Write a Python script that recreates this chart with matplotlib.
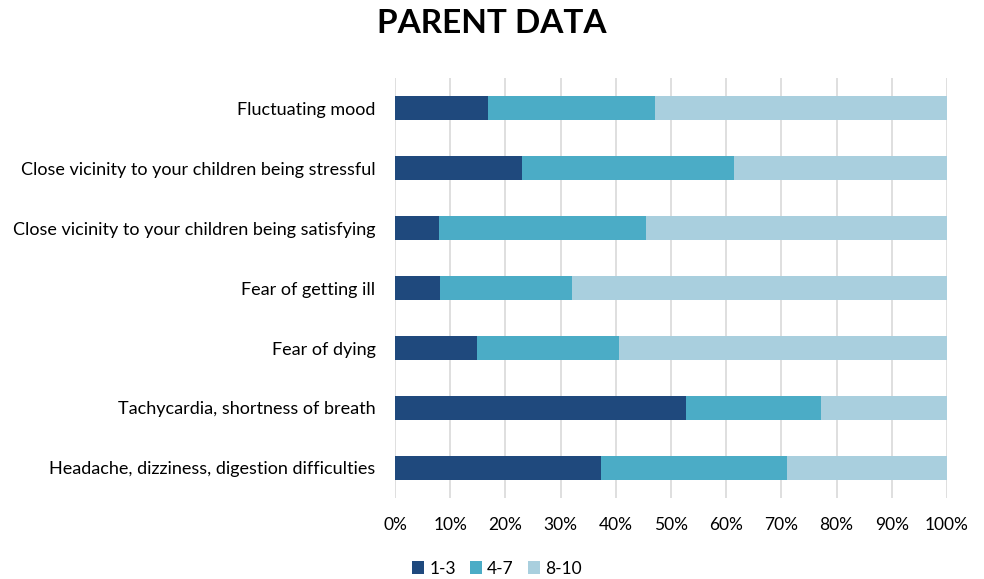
import matplotlib.pyplot as plt
import numpy as np
from matplotlib.ticker import PercentFormatter

plt.rcParams['font.family'] = ['Lato', 'DejaVu Sans']

# survey items, top to bottom
categories = [
    "Fluctuating mood",
    "Close vicinity to your children being stressful",
    "Close vicinity to your children being satisfying",
    "Fear of getting ill",
    "Fear of dying",
    "Tachycardia, shortness of breath",
    "Headache, dizziness, digestion difficulties",
]
# share of answers per rating band (%)
low = [16.9, 23.0, 7.9, 8.2, 14.9, 52.7, 37.4]     # 1-3
mid = [30.2, 38.4, 37.6, 23.9, 25.7, 24.4, 33.6]   # 4-7
high = [52.9, 38.6, 54.5, 67.9, 59.4, 22.9, 29.0]  # 8-10
series_names = ["1-3", "4-7", "8-10"]
colors = ["#1F497D", "#4BACC6", "#A9CFDE"]

fig = plt.figure(figsize=(9.84, 5.79), dpi=100)
ax = fig.add_axes([0.4014, 0.140, 0.561, 0.725])

y = np.arange(len(categories))
left = np.zeros(len(categories))
for vals, name, c in zip([low, mid, high], series_names, colors):
    ax.barh(y, vals, left=left, height=0.4, color=c, label=name, zorder=3)
    left += np.array(vals)

ax.set_xlim(0, 100)
ax.set_ylim(len(categories) - 0.5, -0.5)
ax.set_yticks(y)
ax.set_yticklabels(categories, fontsize=13)
ax.set_xticks(np.arange(0, 101, 10))
ax.xaxis.set_major_formatter(PercentFormatter(decimals=0))
ax.tick_params(axis='x', labelsize=12.5, length=0, pad=14)
ax.tick_params(axis='y', length=0, pad=14)
ax.grid(axis='x', color='#D9D9D9', linewidth=1.2, zorder=0)
for s in ax.spines.values():
    s.set_visible(False)

fig.suptitle("PARENT DATA", fontsize=24, fontweight='bold', y=0.985, x=0.5)

fig.legend(loc='center', bbox_to_anchor=(0.505, 0.018), ncol=3, frameon=False,
           fontsize=12.5, handlelength=0.7, handleheight=0.7, handletextpad=0.3,
           columnspacing=0.8)

fig.savefig("out.png", dpi=100)
